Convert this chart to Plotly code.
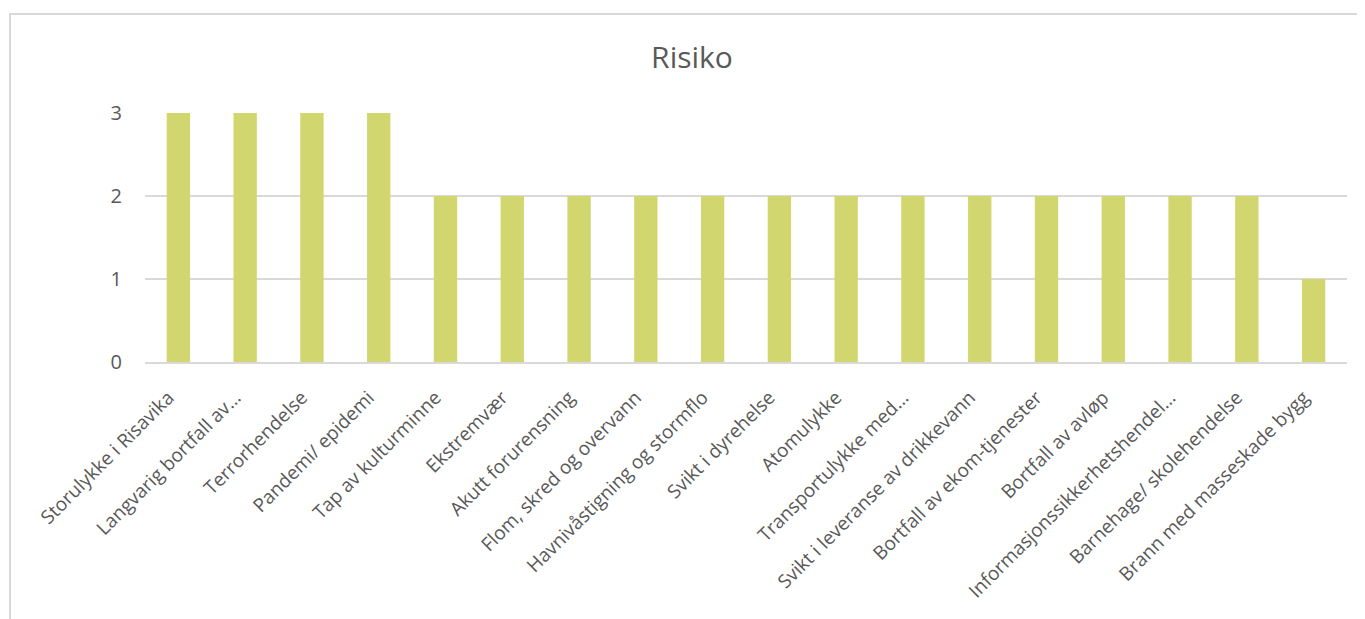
import plotly.graph_objects as go

categories = [
    "Storulykke i Risavika",
    "Langvarig bortfall av…",
    "Terrorhendelse",
    "Pandemi/ epidemi",
    "Tap av kulturminne",
    "Ekstremvær",
    "Akutt forurensning",
    "Flom, skred og overvann",
    "Havnivåstigning og stormflo",
    "Svikt i dyrehelse",
    "Atomulykke",
    "Transportulykke med…",
    "Svikt i leveranse av drikkevann",
    "Bortfall av ekom-tjenester",
    "Bortfall av avløp",
    "Informasjonssikkerhetshendel…",
    "Barnehage/ skolehendelse",
    "Brann med masseskade bygg",
]
risiko = [3, 3, 3, 3, 2, 2, 2, 2, 2, 2, 2, 2, 2, 2, 2, 2, 2, 1]
y_ticks = [0, 1, 2, 3]

OFF = 8  # page body margin
W, H = 1357, 611
L, T = 145 - OFF, 113 - OFF
R = W + OFF - 1347
B = H + OFF - 362
pw = W - L - R
ph = H - T - B

fig = go.Figure(go.Bar(
    x=categories, y=risiko,
    marker=dict(color="#D2D66F", line=dict(width=0)),
    width=0.35,
))

def px_x(v):
    return (v - OFF - L) / pw

def px_y(v):
    return (H - B - (v - OFF)) / ph

fig.add_shape(type="rect", xref="paper", yref="paper",
              x0=px_x(10), x1=px_x(1380), y0=px_y(660), y1=px_y(14),
              line=dict(color="#D9D9D9", width=2), fillcolor="rgba(0,0,0,0)", layer="below")

fig.update_layout(
    width=W, height=H,
    margin=dict(l=L, r=R, t=T, b=B, autoexpand=False),
    paper_bgcolor="white", plot_bgcolor="white",
    font=dict(family="Open Sans, Liberation Sans, sans-serif", color="#595959", size=19),
    title=dict(text="Risiko", x=(692 - OFF) / W, xanchor="center", y=1 - (57 - OFF) / H, yanchor="middle",
               font=dict(size=30, color="#595959")),
    showlegend=False,
    bargap=0.65,
)
fig.update_xaxes(tickangle=-45, showgrid=False, showline=True, linecolor="#D9D9D9", linewidth=2,
                 automargin=False, ticks="", ticklabelstandoff=15, ticklabelshift=-10,
                 tickfont=dict(size=19, color="#595959"))
fig.update_yaxes(range=[0, 3], tickvals=y_ticks, showgrid=True, gridcolor="#D9D9D9", gridwidth=2,
                 automargin=False, zeroline=False, showline=False, ticks="", ticklabelstandoff=22,
                 tickfont=dict(size=20, color="#595959"))

fig.write_html("out.html")
